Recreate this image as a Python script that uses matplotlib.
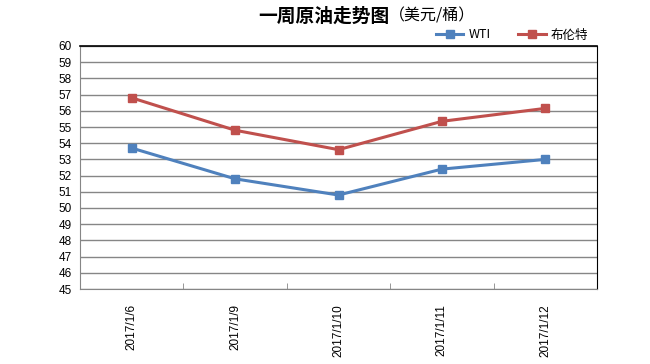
import matplotlib
matplotlib.use("Agg")
import matplotlib.pyplot as plt
import numpy as np

plt.rcParams['font.family'] = ['Noto Sans CJK SC', 'DejaVu Sans']

dates = ["2017/1/6", "2017/1/9", "2017/1/10", "2017/1/11", "2017/1/12"]
wti = [53.7, 51.8, 50.8, 52.4, 53.0]
brent = [56.8, 54.8, 53.6, 55.35, 56.15]
yticks = list(range(45, 61))

fig = plt.figure(figsize=(6.5, 3.64), dpi=100)
ax = fig.add_axes([80/650, 1-289/364, (597-80)/650, (289-46)/364])

x = np.arange(len(dates))
ax.plot(x, wti, color="#4F81BD", lw=2.2, marker="s", ms=6, label="WTI")
ax.plot(x, brent, color="#C0504D", lw=2.2, marker="s", ms=6, label="布伦特")

ax.set_xlim(-0.5, len(dates)-0.5)
ax.set_ylim(45, 60)
ax.set_yticks(yticks)
ax.set_yticklabels([str(v) for v in yticks], fontsize=8.5, family=['Liberation Sans'])
ax.yaxis.grid(True, color="#868686", lw=1)
ax.set_axisbelow(True)
ax.tick_params(axis='y', length=0, pad=6)

ax.set_xticks(x)
ax.set_xticklabels(dates, rotation=90, fontsize=8.5, va='top', family=['Liberation Sans'])
ax.set_xticks(np.arange(-0.5, len(dates)), minor=True)
ax.tick_params(axis='x', which='major', length=0, pad=11)
ax.tick_params(axis='x', which='minor', length=4, color="#868686", direction='in')

for s in ['left', 'bottom']:
    ax.spines[s].set_color("#868686")
for s in ['top', 'right']:
    ax.spines[s].set_color("black")
ax.spines['top'].set_linewidth(1.2)

t1 = fig.text(258/650, 1-16/364, "一周原油走势图", fontsize=13.5, fontweight='bold', ha='left', va='center')
fig.canvas.draw()
bb = t1.get_window_extent()
fig.text(bb.x1/650, 1-16/364, "（美元/桶）", fontsize=11.5, ha='left', va='center')

ax.legend(loc='center right', bbox_to_anchor=(588/650, 1-35/364), bbox_transform=fig.transFigure,
          ncol=2, frameon=False, fontsize=9, handlelength=2.2, columnspacing=2.2,
          handletextpad=0.4, borderpad=0, borderaxespad=0, markerscale=0.9)

fig.savefig("out.png", dpi=100)
